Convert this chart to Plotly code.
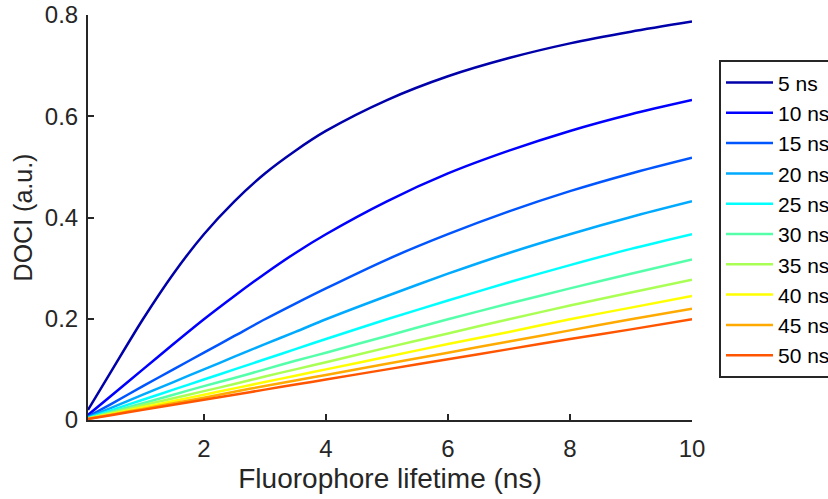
import plotly.graph_objects as go

lifetime = [0.1, 0.5, 1, 1.5, 2, 2.5, 3, 3.5, 4, 5, 6, 7, 8, 9, 10]

series_names = ["5 ns", "10 ns", "15 ns", "20 ns", "25 ns", "30 ns", "35 ns", "40 ns", "45 ns", "50 ns"]

doci_5 = [0.020, 0.100, 0.199, 0.289, 0.367, 0.432, 0.487, 0.532, 0.571, 0.632, 0.679, 0.715, 0.744, 0.767, 0.787]
doci_10 = [0.010, 0.050, 0.100, 0.150, 0.199, 0.245, 0.289, 0.330, 0.367, 0.432, 0.487, 0.532, 0.571, 0.604, 0.632]
doci_15 = [0.0067, 0.033, 0.067, 0.100, 0.133, 0.166, 0.199, 0.230, 0.260, 0.317, 0.367, 0.412, 0.452, 0.487, 0.518]
doci_20 = [0.005, 0.025, 0.050, 0.075, 0.100, 0.125, 0.150, 0.174, 0.199, 0.245, 0.289, 0.330, 0.367, 0.401, 0.432]
doci_25 = [0.004, 0.020, 0.040, 0.060, 0.080, 0.100, 0.120, 0.140, 0.160, 0.199, 0.236, 0.272, 0.306, 0.338, 0.367]
doci_30 = [0.0033, 0.0167, 0.033, 0.050, 0.067, 0.083, 0.100, 0.117, 0.133, 0.166, 0.199, 0.230, 0.260, 0.289, 0.317]
doci_35 = [0.0029, 0.0143, 0.029, 0.043, 0.057, 0.071, 0.086, 0.100, 0.114, 0.143, 0.171, 0.199, 0.226, 0.252, 0.277]
doci_40 = [0.0025, 0.0125, 0.025, 0.0375, 0.050, 0.0625, 0.075, 0.0875, 0.100, 0.125, 0.150, 0.174, 0.199, 0.222, 0.245]
doci_45 = [0.0022, 0.0111, 0.022, 0.033, 0.044, 0.056, 0.067, 0.078, 0.089, 0.111, 0.133, 0.155, 0.177, 0.199, 0.220]
doci_50 = [0.002, 0.010, 0.020, 0.030, 0.040, 0.050, 0.060, 0.070, 0.080, 0.100, 0.120, 0.140, 0.160, 0.179, 0.199]

all_series = [doci_5, doci_10, doci_15, doci_20, doci_25, doci_30, doci_35, doci_40, doci_45, doci_50]

colors = ["#0000AA", "#0000FF", "#0055FF", "#00AAFF", "#00FFFF",
          "#55FFAA", "#AAFF55", "#FFFF00", "#FFAA00", "#FF5500"]

x_ticks = [2, 4, 6, 8, 10]
y_ticks = [0, 0.2, 0.4, 0.6, 0.8]
y_tick_text = ["0", "0.2", "0.4", "0.6", "0.8"]

fig = go.Figure()
for i, (name, ys) in enumerate(zip(series_names, all_series)):
    fig.add_trace(go.Scatter(
        x=lifetime, y=ys, name=name, mode="lines",
        line=dict(color=colors[i], width=2.5, shape="spline", smoothing=0.8),
    ))

ink = "#262626"
fig.update_layout(
    width=828, height=499,
    margin=dict(l=88, r=136, t=15, b=79, autoexpand=False),
    paper_bgcolor="white", plot_bgcolor="white",
    font=dict(family="Liberation Sans, Arial, sans-serif", color=ink, size=24),
    showlegend=True,
    legend=dict(
        x=1.0447, xanchor="left", y=0.888, yanchor="top",
        bordercolor=ink, borderwidth=2, bgcolor="white",
        font=dict(size=21, color="black"),
        itemwidth=47,
    ),
    xaxis=dict(
        range=[0.1, 10], tickvals=x_ticks, ticktext=[str(v) for v in x_ticks],
        showline=True, linecolor=ink, linewidth=2, mirror=False,
        ticks="inside", ticklen=6, tickwidth=2, tickcolor=ink,
        showgrid=False, zeroline=False,
        ticklabelstandoff=6,
        title=dict(text="Fluorophore lifetime (ns)", font=dict(size=28), standoff=8),
        tickfont=dict(size=24),
    ),
    yaxis=dict(
        range=[0, 0.8], tickvals=y_ticks, ticktext=y_tick_text,
        showline=True, linecolor=ink, linewidth=2, mirror=False,
        ticks="inside", ticklen=6, tickwidth=2, tickcolor=ink,
        showgrid=False, zeroline=False,
        ticklabelstandoff=3,
        title=dict(text="DOCI (a.u.)", font=dict(size=25), standoff=5),
        tickfont=dict(size=24),
    ),
)

fig.write_html("out.html")
